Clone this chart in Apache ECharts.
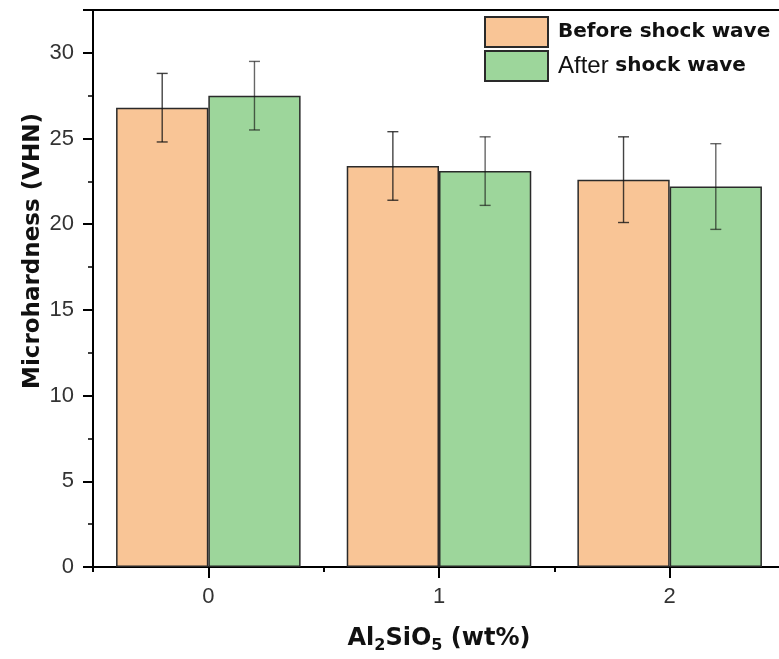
<!DOCTYPE html>
<html><head><meta charset="utf-8">
<script src="https://cdn.jsdelivr.net/npm/echarts@6/dist/echarts.min.js"></script>
<style>html,body{margin:0;padding:0;background:#fff;overflow:hidden}#c{width:790px;height:659px}</style>
</head><body><div id="c"></div>
<script>
const categories = ['0', '1', '2'];
const beforeValues = [26.8, 23.4, 22.6];
const afterValues = [27.5, 23.1, 22.2];
const beforeErr = [2.0, 2.0, 2.5];
const afterErr = [2.0, 2.0, 2.5];
const seriesNames = ['Before shock wave', 'After shock wave'];
const yTicks = [0, 5, 10, 15, 20, 25, 30];

const FONT = '"Liberation Sans", Arial, sans-serif';
const WIDE = '"DejaVu Sans", "Liberation Sans", Arial, sans-serif';
const chart = echarts.init(document.getElementById('c'));

function errSeries(name, values, errs, side, color) {
  return {
    type: 'custom', name: name + ' err', silent: true, z: 10,
    data: values.map((v, i) => [i, v, errs[i]]),
    renderItem: function (params, api) {
      const i = api.value(0), v = api.value(1), e = api.value(2);
      const band = api.size([1, 0])[0];
      const cx = api.coord([i, v])[0] + side * band * 0.2;
      const top = api.coord([i, v + e])[1];
      const bot = api.coord([i, v - e])[1];
      const hw = 5.5;
      const st = { stroke: color, lineWidth: 1.4 };
      return { type: 'group', children: [
        { type: 'line', shape: { x1: cx, y1: top, x2: cx, y2: bot }, style: st },
        { type: 'line', shape: { x1: cx - hw, y1: top, x2: cx + hw, y2: top }, style: st },
        { type: 'line', shape: { x1: cx - hw, y1: bot, x2: cx + hw, y2: bot }, style: st }
      ]};
    }
  };
}

chart.setOption({
  animation: false,
  backgroundColor: '#fff',
  grid: { left: 93, right: 5, top: 10, bottom: 91, show: true, borderColor: '#000', borderWidth: 2, containLabel: false },
  legend: {
    data: seriesNames, orient: 'vertical', left: 484, top: 16, padding: 0,
    itemWidth: 63, itemHeight: 30, itemGap: 2, icon: 'rect',
    textStyle: {
      fontFamily: WIDE, fontSize: 20, color: '#111',
      rich: {
        b: { fontFamily: WIDE, fontSize: 20, fontWeight: 'bold', color: '#111', padding: [0, 0, 0, 5] },
        n: { fontFamily: FONT, fontSize: 24, color: '#111', padding: [0, 0, 0, 5] },
        b2: { fontFamily: WIDE, fontSize: 20, fontWeight: 'bold', color: '#111' }
      }
    },
    formatter: function (name) {
      if (name === 'Before shock wave') return '{b|Before shock wave}';
      return '{n|After }{b2|shock wave}';
    }
  },
  xAxis: [{
    type: 'category', data: categories,
    axisLine: { lineStyle: { color: '#000', width: 2 } },
    axisTick: { show: true, alignWithLabel: false, length: 5, lineStyle: { color: '#000', width: 2 } },
    axisLabel: { fontFamily: FONT, fontSize: 22, color: '#333', margin: 19 },
    name: '{b|Al}{s|2}{b|SiO}{s|5}{b| (wt%)}', nameLocation: 'middle', nameGap: 57,
    nameTextStyle: {
      rich: {
        b: { fontFamily: WIDE, fontSize: 24, fontWeight: 'bold', color: '#111' },
        s: { fontFamily: WIDE, fontSize: 16, fontWeight: 'bold', color: '#111', padding: [14, 0, 0, 0] }
      }
    }
  }, {
    type: 'category', data: categories, position: 'bottom',
    axisLine: { show: false },
    axisTick: { show: true, alignWithLabel: true, length: 11, lineStyle: { color: '#000', width: 2 } },
    axisLabel: { show: false }
  }],
  yAxis: {
    type: 'value', min: 0, max: 32.5, interval: 5,
    axisLine: { show: true, lineStyle: { color: '#000', width: 2 } },
    axisTick: { show: true, length: 10, lineStyle: { color: '#000', width: 2 } },
    minorTick: { show: true, splitNumber: 2, length: 5, lineStyle: { color: '#000', width: 1.5 } },
    splitLine: { show: false },
    axisLabel: {
      fontFamily: FONT, fontSize: 22, color: '#333', margin: 19,
      formatter: function (v) { return yTicks.indexOf(v) >= 0 ? String(v) : ''; }
    }
  },
  graphic: [{
    type: 'text', x: 33, y: 251, rotation: Math.PI / 2,
    style: { text: 'Microhardness (VHN)', fontFamily: WIDE, fontSize: 23, fontWeight: 'bold', fill: '#111', align: 'center', verticalAlign: 'middle' }
  }],
  series: [
    { name: seriesNames[0], type: 'bar', data: beforeValues, barGap: '0%', barCategoryGap: '20%',
      itemStyle: { color: '#F9C596', borderColor: '#2a2a2a', borderWidth: 1.5 } },
    { name: seriesNames[1], type: 'bar', data: afterValues, barGap: '0%', barCategoryGap: '20%',
      itemStyle: { color: '#9DD69B', borderColor: '#2a2a2a', borderWidth: 1.5 } },
    errSeries(seriesNames[0], beforeValues, beforeErr, -1, 'rgba(20,20,20,0.8)'),
    errSeries(seriesNames[1], afterValues, afterErr, 1, 'rgba(20,20,20,0.65)')
  ]
});
</script></body></html>
